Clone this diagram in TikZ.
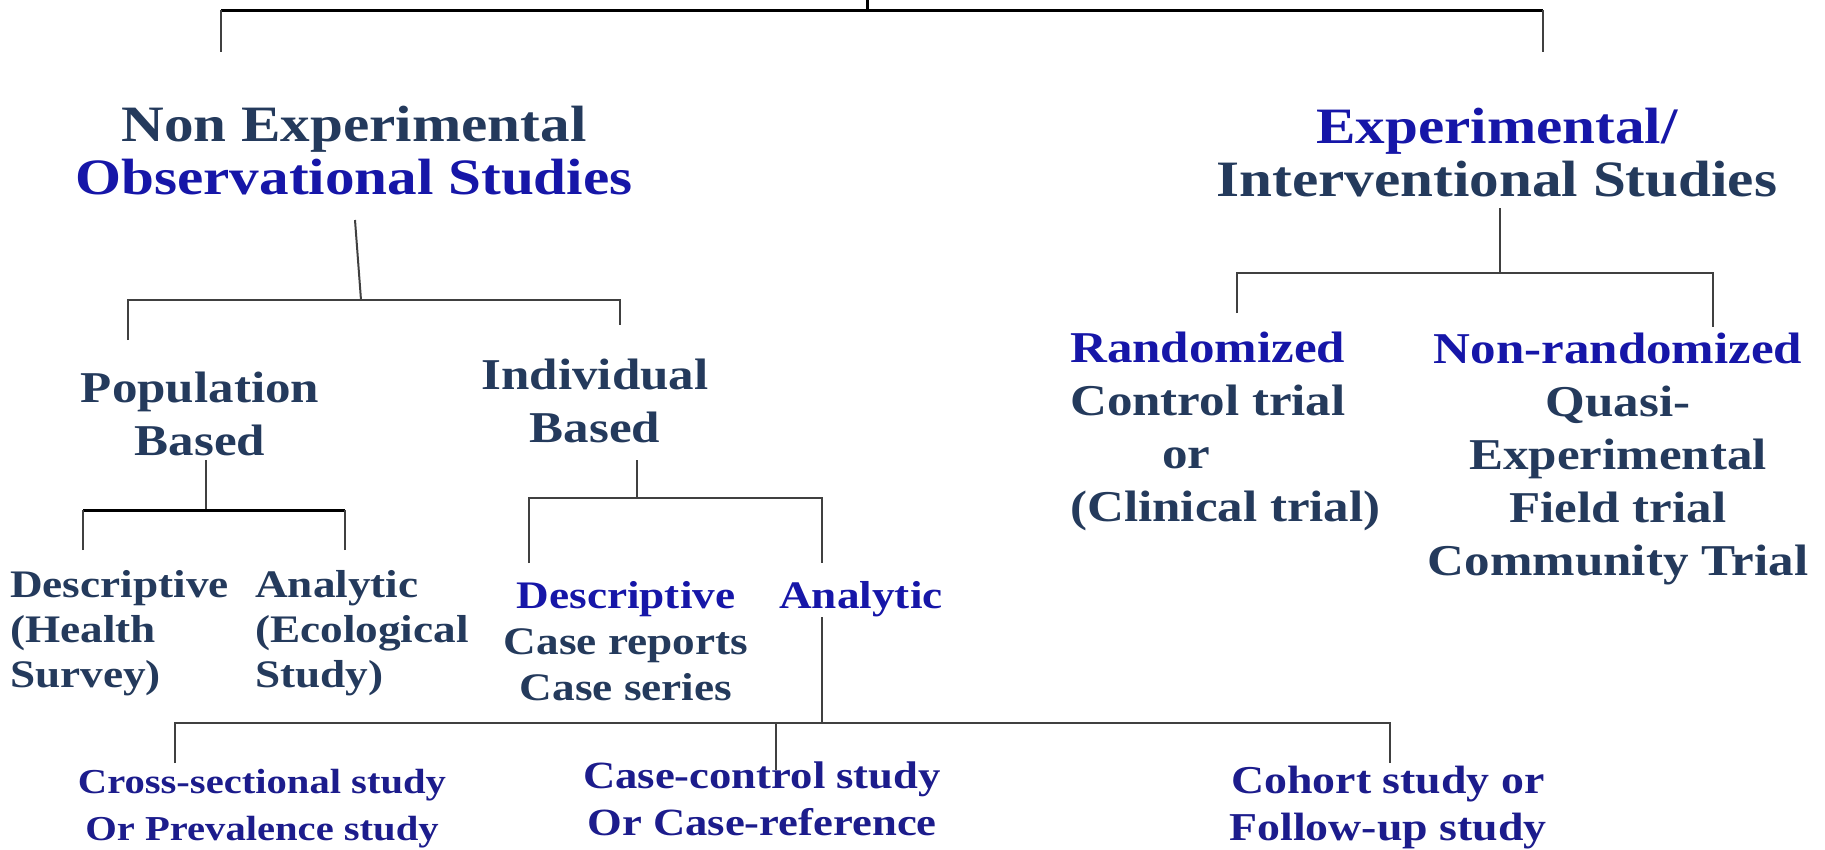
\documentclass[tikz,border=0pt]{standalone}
\usepackage{fontspec}
\newfontfamily\diagfont{Liberation Serif Bold}[FakeStretch=1.16]
\usetikzlibrary{positioning}
\definecolor{slate}{RGB}{36,58,92}
\definecolor{obsblue}{RGB}{22,22,168}
\definecolor{leafblue}{RGB}{28,28,140}

\begin{document}
\begin{tikzpicture}[x=1pt,y=-1pt,
    heading/.style={font=\diagfont\fontsize{51}{53}\selectfont, align=center, anchor=base, inner sep=0pt, text=slate},
    subhead/.style={font=\diagfont\fontsize{44}{53}\selectfont, align=center, anchor=base, inner sep=0pt, text=slate},
    leaf/.style={font=\diagfont\fontsize{39}{45}\selectfont, align=left, anchor=base west, inner sep=0pt, text=slate},
    study/.style={font=\diagfont\fontsize{#1}{47}\selectfont, align=center, anchor=base, inner sep=0pt, text=leafblue},
    trunk/.style={line width=3pt, black},
    branch/.style={line width=2pt, black!75}]

    \useasboundingbox (0,0) rectangle (1825,849);

    % headings and leaves (placed at the baseline of their last line)
    \node[heading] (noexp) at (354,194) {Non Experimental\\\textcolor{obsblue}{Observational Studies}};
    \node[heading] (exper) at (1497,196) {\textcolor{obsblue}{Experimental/}\\Interventional Studies};

    \node[subhead] (pop) at (200,455) {Population\\Based};
    \node[subhead] (indiv) at (595,442) {Individual\\Based};

    \node[leaf] (descA) at (10,687) {Descriptive\\(Health\\Survey)};
    \node[leaf] (analA) at (255,687) {Analytic\\(Ecological\\Study)};
    \node[leaf, anchor=base, align=center, font=\diagfont\fontsize{39}{46}\selectfont] (descB) at (626,700) {\textcolor{obsblue}{Descriptive}\\Case reports\\Case series};
    \node[leaf, anchor=base, text=obsblue] (analB) at (861,608) {Analytic};

    \node[subhead, anchor=base west, align=left] (rct) at (1070,521) {\textcolor{obsblue}{Randomized}\\Control trial\\\hspace*{92pt}or\\(Clinical trial)};
    \node[subhead] (nonrand) at (1618,575) {\textcolor{obsblue}{Non-randomized}\\Quasi-\\Experimental\\Field trial\\Community Trial};

    \node[study=35] (cross) at (262,840) {Cross-sectional study\\Or Prevalence study};
    \node[study=38.5] (cc) at (762,835) {Case-control study\\Or Case-reference};
    \node[study=39.5] (cohort) at (1388,840) {Cohort study or\\Follow-up study};

    % junctions
    \coordinate (root) at (867,0);
    \coordinate (rootJ) at (867,10);
    \coordinate (topL) at (221,10);
    \coordinate (topR) at (1543,10);
    \coordinate (noexpIn) at (221,52);
    \coordinate (experIn) at (1543,52);

    \coordinate (obsOut) at (355,220);
    \coordinate (obsJ) at (361,300);
    \coordinate (obsL) at (128,300);
    \coordinate (obsR) at (620,300);
    \coordinate (popIn) at (128,340);
    \coordinate (indIn) at (620,325);

    \coordinate (popOut) at (206,460);
    \coordinate (popJ) at (206,510);
    \coordinate (popL) at (83,510);
    \coordinate (popR) at (345,510);
    \coordinate (descAIn) at (83,550);
    \coordinate (analAIn) at (345,550);

    \coordinate (indOut) at (637,460);
    \coordinate (indJ) at (637,498);
    \coordinate (indL) at (529,498);
    \coordinate (indR) at (822,498);
    \coordinate (descBIn) at (529,563);
    \coordinate (analBIn) at (822,563);

    \coordinate (analOut) at (822,617);
    \coordinate (analJ) at (822,723);
    \coordinate (botL) at (175,723);
    \coordinate (botM) at (776,723);
    \coordinate (botR) at (1390,723);
    \coordinate (crossIn) at (175,763);
    \coordinate (ccIn) at (776,770);
    \coordinate (cohortIn) at (1390,763);

    \coordinate (expOut) at (1500,208);
    \coordinate (expJ) at (1500,273);
    \coordinate (expL) at (1237,273);
    \coordinate (expR) at (1713,273);
    \coordinate (rctIn) at (1237,313);
    \coordinate (nrIn) at (1713,327);

    % connectors
    \draw[trunk] (root) -- (rootJ);
    \draw[trunk] (topL) -- (topR);
    \draw[branch] (topL) -- (noexpIn);
    \draw[branch] (topR) -- (experIn);

    \draw[branch] (obsOut) -- (obsJ);
    \draw[branch] (popIn) -- (obsL) -- (obsR) -- (indIn);

    \draw[branch] (popOut) -- (popJ);
    \draw[trunk] (popL) -- (popR);
    \draw[branch] (descAIn) -- (popL);
    \draw[branch] (analAIn) -- (popR);

    \draw[branch] (indOut) -- (indJ);
    \draw[branch] (descBIn) -- (indL) -- (indR) -- (analBIn);

    \draw[branch] (analOut) -- (analJ);
    \draw[branch] (crossIn) -- (botL) -- (botR) -- (cohortIn);
    \draw[branch] (botM) -- (ccIn);

    \draw[branch] (expOut) -- (expJ);
    \draw[branch] (rctIn) -- (expL) -- (expR) -- (nrIn);

\end{tikzpicture}
\end{document}
